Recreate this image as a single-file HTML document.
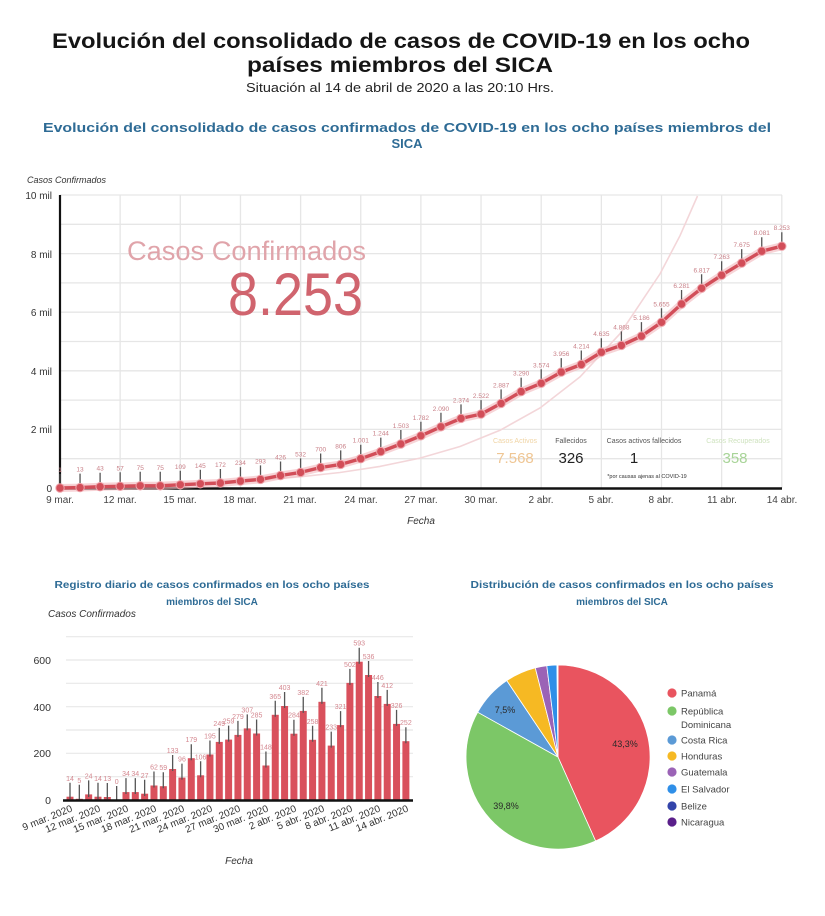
<!DOCTYPE html>
<html>
<head>
<meta charset="utf-8">
<style>
  html,body{margin:0;padding:0;background:#fff;}
  svg{display:block;}
  text{font-family:"Liberation Sans",sans-serif;}
</style>
</head>
<body>
<svg width="825" height="916" viewBox="0 0 825 916" xmlns="http://www.w3.org/2000/svg">
  <rect width="825" height="916" fill="#fff"/>

  <!-- Titles -->
  <text x="401" y="48" text-anchor="middle" font-size="21" font-weight="bold" fill="#151515" textLength="698" lengthAdjust="spacingAndGlyphs">Evolución del consolidado de casos de COVID-19 en los ocho</text>
  <text x="400" y="72" text-anchor="middle" font-size="21" font-weight="bold" fill="#151515" textLength="306" lengthAdjust="spacingAndGlyphs">países miembros del SICA</text>
  <text x="400" y="92" text-anchor="middle" font-size="13" fill="#222" textLength="308" lengthAdjust="spacingAndGlyphs">Situación al 14 de abril de 2020 a las 20:10 Hrs.</text>
  <text x="407" y="132" text-anchor="middle" font-size="13" font-weight="bold" fill="#2e6b95" textLength="728" lengthAdjust="spacingAndGlyphs">Evolución del consolidado de casos confirmados de COVID-19 en los ocho países miembros del</text>
  <text x="407" y="148" text-anchor="middle" font-size="13" font-weight="bold" fill="#2e6b95">SICA</text>

  <!-- ============ MAIN LINE CHART ============ -->
  <text x="27" y="183" font-size="9" font-style="italic" fill="#333">Casos Confirmados</text>
  <g stroke="#e6e6e6" stroke-width="1.3">
    <line x1="60" y1="458.7" x2="782" y2="458.7"/>
    <line x1="60" y1="429.4" x2="782" y2="429.4"/>
    <line x1="60" y1="400.1" x2="782" y2="400.1"/>
    <line x1="60" y1="370.8" x2="782" y2="370.8"/>
    <line x1="60" y1="341.5" x2="782" y2="341.5"/>
    <line x1="60" y1="312.2" x2="782" y2="312.2"/>
    <line x1="60" y1="282.9" x2="782" y2="282.9"/>
    <line x1="60" y1="253.6" x2="782" y2="253.6"/>
    <line x1="60" y1="224.3" x2="782" y2="224.3"/>
    <line x1="60" y1="195" x2="782" y2="195"/>
    <line x1="120.15" y1="195" x2="120.15" y2="488"/>
    <line x1="180.3" y1="195" x2="180.3" y2="488"/>
    <line x1="240.45" y1="195" x2="240.45" y2="488"/>
    <line x1="300.6" y1="195" x2="300.6" y2="488"/>
    <line x1="360.75" y1="195" x2="360.75" y2="488"/>
    <line x1="420.9" y1="195" x2="420.9" y2="488"/>
    <line x1="481.05" y1="195" x2="481.05" y2="488"/>
    <line x1="541.2" y1="195" x2="541.2" y2="488"/>
    <line x1="601.35" y1="195" x2="601.35" y2="488"/>
    <line x1="661.5" y1="195" x2="661.5" y2="488"/>
    <line x1="721.65" y1="195" x2="721.65" y2="488"/>
    <line x1="781.8" y1="195" x2="781.8" y2="488"/>
  </g>
  <g font-size="10" fill="#333" text-anchor="end">
    <text x="52" y="199">10 mil</text>
    <text x="52" y="258">8 mil</text>
    <text x="52" y="316">6 mil</text>
    <text x="52" y="375">4 mil</text>
    <text x="52" y="433">2 mil</text>
    <text x="52" y="492">0</text>
  </g>
  <g font-size="10" fill="#444" text-anchor="middle">
    <text x="60" y="503">9 mar.</text>
    <text x="120" y="503">12 mar.</text>
    <text x="180" y="503">15 mar.</text>
    <text x="240" y="503">18 mar.</text>
    <text x="300" y="503">21 mar.</text>
    <text x="361" y="503">24 mar.</text>
    <text x="421" y="503">27 mar.</text>
    <text x="481" y="503">30 mar.</text>
    <text x="541" y="503">2 abr.</text>
    <text x="601" y="503">5 abr.</text>
    <text x="661" y="503">8 abr.</text>
    <text x="722" y="503">11 abr.</text>
    <text x="782" y="503">14 abr.</text>
  </g>
  <text x="421" y="524" text-anchor="middle" font-size="10" font-style="italic" fill="#333">Fecha</text>

  <text x="127" y="260" font-size="27" fill="#e0a4aa" textLength="239" lengthAdjust="spacingAndGlyphs">Casos Confirmados</text>
  <text x="228" y="315" font-size="60" fill="#d0646e" textLength="135" lengthAdjust="spacingAndGlyphs">8.253</text>

  <polyline fill="none" stroke="#f3d6d9" stroke-width="1.6" points="60,486.4 100,485.8 140,485 180,483.8 220,482.2 260,479.9 300,476.8 340,472.5 380,466.4 420,458.1 460,446.5 500,430.3 540,408 580,376.9 620,333.7 660,273.9 680,235.7 697.5,196"/>

  <g text-anchor="middle">
    <text x="515" y="443" font-size="7" fill="#f0d4a4">Casos Activos</text>
    <text x="515" y="463" font-size="15" fill="#efc694">7.568</text>
    <text x="571" y="443" font-size="7" fill="#555">Fallecidos</text>
    <text x="571" y="463" font-size="15" fill="#222">326</text>
    <text x="644" y="443" font-size="7" fill="#555">Casos activos fallecidos</text>
    <text x="634" y="463" font-size="15" fill="#222">1</text>
    <text x="647" y="478" font-size="5.5" fill="#333">*por causas ajenas al COVID-19</text>
    <text x="738" y="443" font-size="7" fill="#cfe3bf">Casos Recuperados</text>
    <text x="735" y="463" font-size="15" fill="#a8d498">358</text>
  </g>

  <line x1="60" y1="195" x2="60" y2="489" stroke="#111" stroke-width="2.2"/>
  <line x1="59" y1="488.5" x2="782" y2="488.5" stroke="#111" stroke-width="2.6"/>

  <polyline fill="none" stroke="#f2b8bd" stroke-width="8" stroke-linejoin="round" opacity="0.6" points="60,488 80.05,487.6 100.1,486.7 120.15,486.3 140.2,485.8 160.25,485.8 180.3,484.8 200.35,483.8 220.4,483 240.45,481.1 260.5,479.4 280.55,475.5 300.6,472.4 320.65,467.5 340.7,464.4 360.75,458.7 380.8,451.6 400.85,444 420.9,435.8 440.95,426.8 461,418.4 481.05,414.1 501.1,403.4 521.15,391.6 541.2,383.3 561.25,372.1 581.3,364.5 601.35,352.2 621.4,345.4 641.45,336.1 661.5,322.3 681.55,304 701.6,288.3 721.65,275.2 741.7,263.1 761.75,251.2 781.8,246.2"/>
  <polyline fill="none" stroke="#d24e59" stroke-width="3.4" stroke-linejoin="round" points="60,488 80.05,487.6 100.1,486.7 120.15,486.3 140.2,485.8 160.25,485.8 180.3,484.8 200.35,483.8 220.4,483 240.45,481.1 260.5,479.4 280.55,475.5 300.6,472.4 320.65,467.5 340.7,464.4 360.75,458.7 380.8,451.6 400.85,444 420.9,435.8 440.95,426.8 461,418.4 481.05,414.1 501.1,403.4 521.15,391.6 541.2,383.3 561.25,372.1 581.3,364.5 601.35,352.2 621.4,345.4 641.45,336.1 661.5,322.3 681.55,304 701.6,288.3 721.65,275.2 741.7,263.1 761.75,251.2 781.8,246.2"/>
  <path fill="none" stroke="#555" stroke-width="1.3" d="M60,485V474 M80.05,484.6V473.6 M100.1,483.7V472.7 M120.15,483.3V472.3 M140.2,482.8V471.8 M160.25,482.8V471.8 M180.3,481.8V470.8 M200.35,480.8V469.8 M220.4,480V469 M240.45,478.1V467.1 M260.5,476.4V465.4 M280.55,472.5V461.5 M300.6,469.4V458.4 M320.65,464.5V453.5 M340.7,461.4V450.4 M360.75,455.7V444.7 M380.8,448.6V437.6 M400.85,441V430 M420.9,432.8V421.8 M440.95,423.8V412.8 M461,415.4V404.4 M481.05,411.1V400.1 M501.1,400.4V389.4 M521.15,388.6V377.6 M541.2,380.3V369.3 M561.25,369.1V358.1 M581.3,361.5V350.5 M601.35,349.2V338.2 M621.4,342.4V331.4 M641.45,333.1V322.1 M661.5,319.3V308.3 M681.55,301V290 M701.6,285.3V274.3 M721.65,272.2V261.2 M741.7,260.1V249.1 M761.75,248.2V237.2 M781.8,243.2V232.2"/>
  <g fill="#d24e59" stroke="#eea4ab" stroke-width="1">
    <circle cx="60" cy="488" r="4.2"/><circle cx="80.05" cy="487.6" r="4.2"/><circle cx="100.1" cy="486.7" r="4.2"/><circle cx="120.15" cy="486.3" r="4.2"/><circle cx="140.2" cy="485.8" r="4.2"/><circle cx="160.25" cy="485.8" r="4.2"/><circle cx="180.3" cy="484.8" r="4.2"/><circle cx="200.35" cy="483.8" r="4.2"/><circle cx="220.4" cy="483" r="4.2"/><circle cx="240.45" cy="481.1" r="4.2"/><circle cx="260.5" cy="479.4" r="4.2"/><circle cx="280.55" cy="475.5" r="4.2"/><circle cx="300.6" cy="472.4" r="4.2"/><circle cx="320.65" cy="467.5" r="4.2"/><circle cx="340.7" cy="464.4" r="4.2"/><circle cx="360.75" cy="458.7" r="4.2"/><circle cx="380.8" cy="451.6" r="4.2"/><circle cx="400.85" cy="444" r="4.2"/><circle cx="420.9" cy="435.8" r="4.2"/><circle cx="440.95" cy="426.8" r="4.2"/><circle cx="461" cy="418.4" r="4.2"/><circle cx="481.05" cy="414.1" r="4.2"/><circle cx="501.1" cy="403.4" r="4.2"/><circle cx="521.15" cy="391.6" r="4.2"/><circle cx="541.2" cy="383.3" r="4.2"/><circle cx="561.25" cy="372.1" r="4.2"/><circle cx="581.3" cy="364.5" r="4.2"/><circle cx="601.35" cy="352.2" r="4.2"/><circle cx="621.4" cy="345.4" r="4.2"/><circle cx="641.45" cy="336.1" r="4.2"/><circle cx="661.5" cy="322.3" r="4.2"/><circle cx="681.55" cy="304" r="4.2"/><circle cx="701.6" cy="288.3" r="4.2"/><circle cx="721.65" cy="275.2" r="4.2"/><circle cx="741.7" cy="263.1" r="4.2"/><circle cx="761.75" cy="251.2" r="4.2"/><circle cx="781.8" cy="246.2" r="4.2"/>
  </g>
  <g font-size="6.5" fill="#c98088" text-anchor="middle">
    <text x="60" y="472">1</text><text x="80.05" y="471.6">13</text><text x="100.1" y="470.7">43</text><text x="120.15" y="470.3">57</text><text x="140.2" y="469.8">75</text><text x="160.25" y="469.8">75</text><text x="180.3" y="468.8">109</text><text x="200.35" y="467.8">145</text><text x="220.4" y="467">172</text><text x="240.45" y="465.1">234</text><text x="260.5" y="463.4">293</text><text x="280.55" y="459.5">426</text><text x="300.6" y="456.4">532</text><text x="320.65" y="451.5">700</text><text x="340.7" y="448.4">806</text><text x="360.75" y="442.7">1.001</text><text x="380.8" y="435.6">1.244</text><text x="400.85" y="428">1.503</text><text x="420.9" y="419.8">1.782</text><text x="440.95" y="410.8">2.090</text><text x="461" y="402.4">2.374</text><text x="481.05" y="398.1">2.522</text><text x="501.1" y="387.4">2.887</text><text x="521.15" y="375.6">3.290</text><text x="541.2" y="367.3">3.574</text><text x="561.25" y="356.1">3.956</text><text x="581.3" y="348.5">4.214</text><text x="601.35" y="336.2">4.635</text><text x="621.4" y="329.4">4.868</text><text x="641.45" y="320.1">5.186</text><text x="661.5" y="306.3">5.655</text><text x="681.55" y="288">6.281</text><text x="701.6" y="272.3">6.817</text><text x="721.65" y="259.2">7.263</text><text x="741.7" y="247.1">7.675</text><text x="761.75" y="235.2">8.081</text><text x="781.8" y="230.2">8.253</text>
  </g>

  <!-- ============ BAR CHART ============ -->
  <text x="212" y="588" text-anchor="middle" font-size="10" font-weight="bold" fill="#2e6b95" textLength="315" lengthAdjust="spacingAndGlyphs">Registro diario de casos confirmados en los ocho países</text>
  <text x="212" y="605" text-anchor="middle" font-size="10" font-weight="bold" fill="#2e6b95">miembros del SICA</text>
  <text x="48" y="617" font-size="10" font-style="italic" fill="#333">Casos Confirmados</text>
  <g stroke="#e8e8e8" stroke-width="1.2">
    <line x1="66" y1="776.7" x2="413" y2="776.7"/>
    <line x1="66" y1="753.3" x2="413" y2="753.3"/>
    <line x1="66" y1="730" x2="413" y2="730"/>
    <line x1="66" y1="706.7" x2="413" y2="706.7"/>
    <line x1="66" y1="683.3" x2="413" y2="683.3"/>
    <line x1="66" y1="660" x2="413" y2="660"/>
    <line x1="66" y1="636.7" x2="413" y2="636.7"/>
  </g>
  <g font-size="10.5" fill="#333" text-anchor="end">
    <text x="51" y="664">600</text>
    <text x="51" y="711">400</text>
    <text x="51" y="757">200</text>
    <text x="51" y="804">0</text>
  </g>
  <g fill="#d9505c">
    <rect x="66.5" y="796.7" width="7" height="3.3"/>
    <rect x="75.83" y="798.8" width="7" height="1.2"/>
    <rect x="85.16" y="794.4" width="7" height="5.6"/>
    <rect x="94.49" y="796.7" width="7" height="3.3"/>
    <rect x="103.82" y="797" width="7" height="3"/>
    <rect x="122.48" y="792.1" width="7" height="7.9"/>
    <rect x="131.81" y="792.1" width="7" height="7.9"/>
    <rect x="141.14" y="793.7" width="7" height="6.3"/>
    <rect x="150.47" y="785.5" width="7" height="14.5"/>
    <rect x="159.8" y="786.2" width="7" height="13.8"/>
    <rect x="169.13" y="769" width="7" height="31"/>
    <rect x="178.46" y="777.6" width="7" height="22.4"/>
    <rect x="187.79" y="758.2" width="7" height="41.8"/>
    <rect x="197.12" y="775.3" width="7" height="24.7"/>
    <rect x="206.45" y="754.5" width="7" height="45.5"/>
    <rect x="215.78" y="741.9" width="7" height="58.1"/>
    <rect x="225.11" y="739.6" width="7" height="60.4"/>
    <rect x="234.44" y="734.9" width="7" height="65.1"/>
    <rect x="243.77" y="728.4" width="7" height="71.6"/>
    <rect x="253.1" y="733.5" width="7" height="66.5"/>
    <rect x="262.43" y="765.5" width="7" height="34.5"/>
    <rect x="271.76" y="714.8" width="7" height="85.2"/>
    <rect x="281.09" y="706" width="7" height="94"/>
    <rect x="290.42" y="733.7" width="7" height="66.3"/>
    <rect x="299.75" y="710.9" width="7" height="89.1"/>
    <rect x="309.08" y="739.8" width="7" height="60.2"/>
    <rect x="318.41" y="701.8" width="7" height="98.2"/>
    <rect x="327.74" y="745.6" width="7" height="54.4"/>
    <rect x="337.07" y="725.1" width="7" height="74.9"/>
    <rect x="346.4" y="682.9" width="7" height="117.1"/>
    <rect x="355.73" y="661.7" width="7" height="138.3"/>
    <rect x="365.06" y="675" width="7" height="125"/>
    <rect x="374.39" y="696" width="7" height="104"/>
    <rect x="383.72" y="703.9" width="7" height="96.1"/>
    <rect x="393.05" y="723.9" width="7" height="76.1"/>
    <rect x="402.38" y="741.2" width="7" height="58.8"/>
  </g>
  <path fill="none" stroke="#555" stroke-width="1.3" d="M70,799V782.7 M79.33,800V784.8 M88.66,797V780.4 M97.99,799V782.7 M107.32,799V783 M116.65,800V786 M125.98,794V778.1 M135.31,794V778.1 M144.64,796V779.7 M153.97,787.5V771.5 M163.3,788.2V772.2 M172.63,771V755 M181.96,779.6V763.6 M191.29,760.2V744.2 M200.62,777.3V761.3 M209.95,756.5V740.5 M219.28,743.9V727.9 M228.61,741.6V725.6 M237.94,736.9V720.9 M247.27,730.4V714.4 M256.6,735.5V719.5 M265.93,767.5V751.5 M275.26,716.8V700.8 M284.59,708V692 M293.92,735.7V719.7 M303.25,712.9V696.9 M312.58,741.8V725.8 M321.91,703.8V687.8 M331.24,747.6V731.6 M340.57,727.1V711.1 M349.9,684.9V668.9 M359.23,663.7V647.7 M368.56,677V661 M377.89,698V682 M387.22,705.9V689.9 M396.55,725.9V709.9 M405.88,743.2V727.2"/>
  <line x1="63" y1="800.5" x2="413" y2="800.5" stroke="#111" stroke-width="2.4"/>
  <g font-size="7" fill="#d48890" text-anchor="middle">
    <text x="70" y="781">14</text><text x="79.33" y="783">5</text><text x="88.66" y="778.5">24</text><text x="97.99" y="781">14</text><text x="107.32" y="781">13</text><text x="116.65" y="784">0</text><text x="125.98" y="776">34</text><text x="135.31" y="776">34</text><text x="144.64" y="778">27</text><text x="153.97" y="769.5">62</text><text x="163.3" y="770.2">59</text><text x="172.63" y="753">133</text><text x="181.96" y="761.6">96</text><text x="191.29" y="742.2">179</text><text x="200.62" y="759.3">106</text><text x="209.95" y="738.5">195</text><text x="219.28" y="725.9">249</text><text x="228.61" y="723.6">259</text><text x="237.94" y="718.9">279</text><text x="247.27" y="712.4">307</text><text x="256.6" y="717.5">285</text><text x="265.93" y="749.5">148</text><text x="275.26" y="698.8">365</text><text x="284.59" y="690">403</text><text x="293.92" y="717.7">284</text><text x="303.25" y="694.9">382</text><text x="312.58" y="723.8">258</text><text x="321.91" y="685.8">421</text><text x="331.24" y="729.6">233</text><text x="340.57" y="709.1">321</text><text x="349.9" y="666.9">502</text><text x="359.23" y="645.7">593</text><text x="368.56" y="659">536</text><text x="377.89" y="680">446</text><text x="387.22" y="687.9">412</text><text x="396.55" y="707.9">326</text><text x="405.88" y="725.2">252</text>
  </g>
  <g font-size="10" fill="#333" text-anchor="end">
    <text transform="translate(73,811) rotate(-22)">9 mar. 2020</text>
    <text transform="translate(101,811) rotate(-22)">12 mar. 2020</text>
    <text transform="translate(129,811) rotate(-22)">15 mar. 2020</text>
    <text transform="translate(157,811) rotate(-22)">18 mar. 2020</text>
    <text transform="translate(185,811) rotate(-22)">21 mar. 2020</text>
    <text transform="translate(213,811) rotate(-22)">24 mar. 2020</text>
    <text transform="translate(241,811) rotate(-22)">27 mar. 2020</text>
    <text transform="translate(269,811) rotate(-22)">30 mar. 2020</text>
    <text transform="translate(297,811) rotate(-22)">2 abr. 2020</text>
    <text transform="translate(325,811) rotate(-22)">5 abr. 2020</text>
    <text transform="translate(353,811) rotate(-22)">8 abr. 2020</text>
    <text transform="translate(381,811) rotate(-22)">11 abr. 2020</text>
    <text transform="translate(409,811) rotate(-22)">14 abr. 2020</text>
  </g>
  <text x="239" y="864" text-anchor="middle" font-size="10" font-style="italic" fill="#333">Fecha</text>

  <!-- ============ PIE CHART ============ -->
  <text x="622" y="588" text-anchor="middle" font-size="10" font-weight="bold" fill="#2e6b95" textLength="303" lengthAdjust="spacingAndGlyphs">Distribución de casos confirmados en los ocho países</text>
  <text x="622" y="605" text-anchor="middle" font-size="10" font-weight="bold" fill="#2e6b95">miembros del SICA</text>
  <g stroke="#fff" stroke-width="0.8">
    <path d="M558,757 L558,665 A92,92 0 0 1 595.6,841 Z" fill="#e9545f"/>
    <path d="M558,757 L595.6,841 A92,92 0 0 1 477.7,712.2 Z" fill="#7cc767"/>
    <path d="M558,757 L477.7,712.2 A92,92 0 0 1 506.8,680.6 Z" fill="#5b9ad6"/>
    <path d="M558,757 L506.8,680.6 A92,92 0 0 1 535.3,667.9 Z" fill="#f6b923"/>
    <path d="M558,757 L535.3,667.9 A92,92 0 0 1 546.8,665.7 Z" fill="#9b63b6"/>
    <path d="M558,757 L546.8,665.7 A92,92 0 0 1 557,665 Z" fill="#2f8fe8"/>
    <path d="M558,757 L557,665 A92,92 0 0 1 557.5,665 Z" fill="#3344aa"/>
    <path d="M558,757 L557.5,665 A92,92 0 0 1 558,665 Z" fill="#5a1f8a"/>
  </g>
  <g font-size="9" fill="#2a2a2a" text-anchor="middle">
    <text x="625" y="747">43,3%</text>
    <text x="506" y="809">39,8%</text>
    <text x="505" y="713">7,5%</text>
  </g>
  <g>
    <circle cx="672" cy="693" r="4.6" fill="#e9545f"/>
    <circle cx="672" cy="711" r="4.6" fill="#7cc767"/>
    <circle cx="672" cy="740" r="4.6" fill="#5b9ad6"/>
    <circle cx="672" cy="756" r="4.6" fill="#f6b923"/>
    <circle cx="672" cy="772" r="4.6" fill="#9b63b6"/>
    <circle cx="672" cy="789" r="4.6" fill="#2f8fe8"/>
    <circle cx="672" cy="806" r="4.6" fill="#3344aa"/>
    <circle cx="672" cy="822" r="4.6" fill="#5a1f8a"/>
  </g>
  <g font-size="9.5" fill="#444">
    <text x="681" y="696.5">Panamá</text>
    <text x="681" y="714.5">República</text>
    <text x="681" y="728">Dominicana</text>
    <text x="681" y="743.5">Costa Rica</text>
    <text x="681" y="759.5">Honduras</text>
    <text x="681" y="775.5">Guatemala</text>
    <text x="681" y="792.5">El Salvador</text>
    <text x="681" y="809.5">Belize</text>
    <text x="681" y="825.5">Nicaragua</text>
  </g>
</svg>
</body>
</html>
